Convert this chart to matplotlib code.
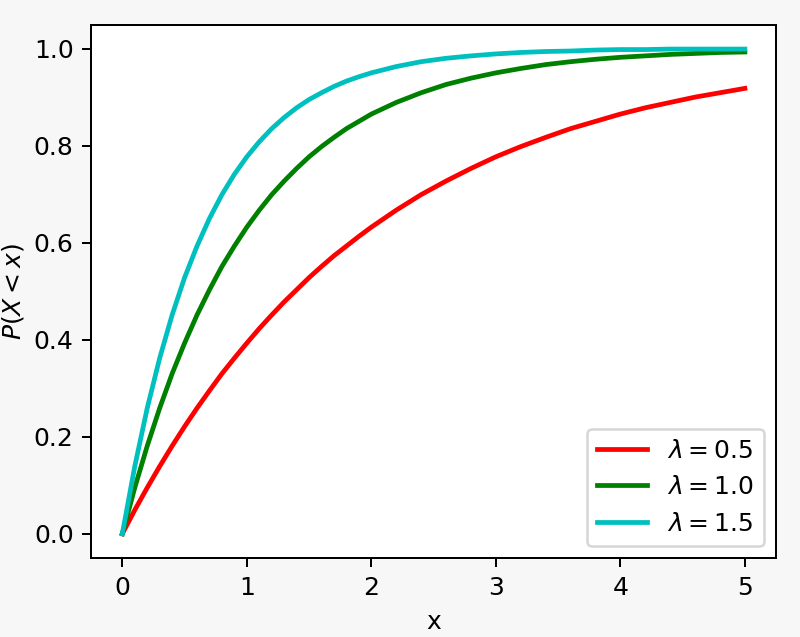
import matplotlib
matplotlib.use("Agg")
import matplotlib.pyplot as plt

x_vals = [0, 0.1, 0.2, 0.3, 0.4, 0.5, 0.6, 0.7, 0.8, 0.9, 1.0, 1.1, 1.2, 1.3, 1.4, 1.5, 1.6, 1.7, 1.8, 1.9, 2.0,
          2.2, 2.4, 2.6, 2.8, 3.0, 3.2, 3.4, 3.6, 3.8, 4.0, 4.2, 4.4, 4.6, 4.8, 5.0]
cdf_05 = [0, 0.049, 0.095, 0.139, 0.181, 0.221, 0.259, 0.295, 0.330, 0.362, 0.393, 0.423, 0.451, 0.478, 0.503,
          0.528, 0.551, 0.573, 0.593, 0.613, 0.632,
          0.667, 0.699, 0.727, 0.753, 0.777, 0.798, 0.817, 0.835, 0.850, 0.865, 0.878, 0.889, 0.900, 0.909, 0.918]
cdf_10 = [0, 0.095, 0.181, 0.259, 0.330, 0.393, 0.451, 0.503, 0.551, 0.593, 0.632, 0.667, 0.699, 0.727, 0.753,
          0.777, 0.798, 0.817, 0.835, 0.850, 0.865,
          0.889, 0.909, 0.926, 0.939, 0.950, 0.959, 0.967, 0.973, 0.978, 0.982, 0.985, 0.988, 0.990, 0.992, 0.993]
cdf_15 = [0, 0.139, 0.259, 0.362, 0.451, 0.528, 0.593, 0.650, 0.699, 0.741, 0.777, 0.808, 0.835, 0.858, 0.878,
          0.895, 0.909, 0.922, 0.933, 0.942, 0.950,
          0.963, 0.973, 0.980, 0.985, 0.989, 0.992, 0.994, 0.995, 0.997, 0.998, 0.998, 0.999, 0.999, 0.999, 0.999]
labels = [r'$\lambda=0.5$', r'$\lambda=1.0$', r'$\lambda=1.5$']
colors = ['r', 'g', 'c']

fig = plt.figure(figsize=(800/180, 637/180), dpi=180, facecolor='#f7f7f7')
ax = fig.add_axes([0.114, 0.124, 0.856, 0.837])
for ys, lab, c in zip([cdf_05, cdf_10, cdf_15], labels, colors):
    ax.plot(x_vals, ys, color=c, lw=1.9, label=lab, solid_joinstyle='round')
ax.set_xlabel('x')
ax.set_ylabel(r'$P(X<x)$', labelpad=3)
ax.set_xticks([0, 1, 2, 3, 4, 5])
ax.set_yticks([0.0, 0.2, 0.4, 0.6, 0.8, 1.0])
ax.legend(loc='lower right')
fig.savefig('out.png', dpi=180, facecolor=fig.get_facecolor())
